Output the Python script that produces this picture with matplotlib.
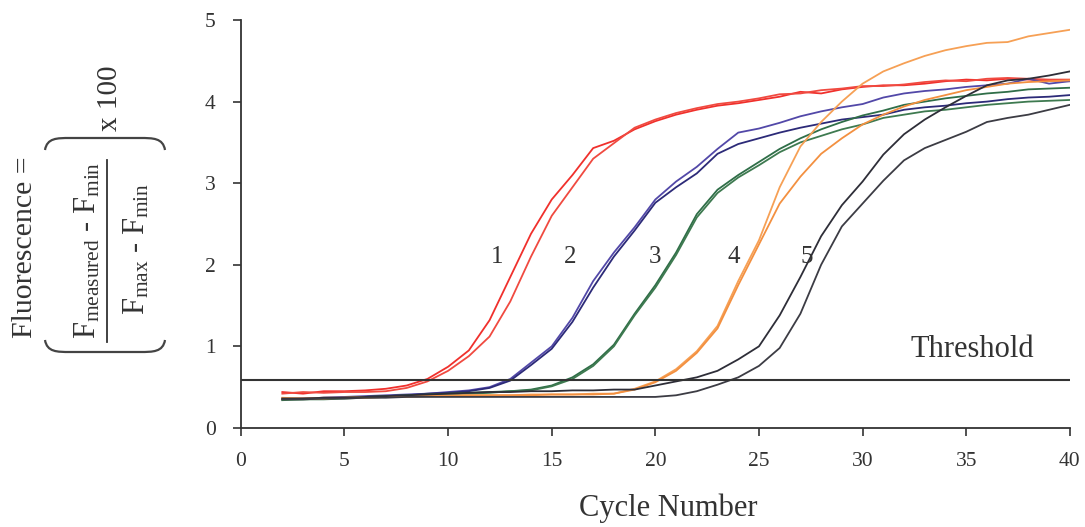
import numpy as np
import matplotlib
matplotlib.use("Agg")
import matplotlib.pyplot as plt
from matplotlib.path import Path
from matplotlib.patches import PathPatch

plt.rcParams['font.family'] = ['Liberation Serif', 'DejaVu Serif']
plt.rcParams['mathtext.fontset'] = 'custom'
plt.rcParams['mathtext.rm'] = 'Liberation Serif'
plt.rcParams['mathtext.it'] = 'Liberation Serif:italic'

cycles = np.arange(2, 41)

# one value per cycle (2..40)
red_a = [0.44, 0.42, 0.45, 0.45, 0.46, 0.48, 0.52, 0.60, 0.75, 0.95, 1.32, 1.85, 2.38, 2.80,
         3.10, 3.43, 3.52, 3.66, 3.76, 3.84, 3.90, 3.95, 3.98, 4.02, 4.06, 4.12, 4.10, 4.15,
         4.18, 4.20, 4.20, 4.22, 4.25, 4.27, 4.26, 4.28, 4.27, 4.26, 4.25]
red_b = [0.42, 0.44, 0.43, 0.44, 0.44, 0.45, 0.49, 0.57, 0.70, 0.88, 1.12, 1.55, 2.10, 2.60,
         2.95, 3.30, 3.49, 3.68, 3.78, 3.86, 3.92, 3.97, 4.00, 4.04, 4.09, 4.10, 4.14, 4.16,
         4.19, 4.19, 4.21, 4.24, 4.26, 4.25, 4.28, 4.29, 4.28, 4.27, 4.27]
blue_a = [0.36, 0.36, 0.37, 0.38, 0.39, 0.40, 0.41, 0.42, 0.44, 0.46, 0.50, 0.60, 0.80, 1.00,
          1.35, 1.80, 2.15, 2.46, 2.80, 3.02, 3.20, 3.42, 3.62, 3.67, 3.74, 3.82, 3.88, 3.93,
          3.97, 4.05, 4.10, 4.13, 4.15, 4.18, 4.20, 4.22, 4.28, 4.22, 4.25]
blue_b = [0.35, 0.36, 0.37, 0.37, 0.38, 0.39, 0.40, 0.42, 0.43, 0.45, 0.49, 0.58, 0.77, 0.97,
          1.30, 1.72, 2.10, 2.42, 2.76, 2.95, 3.12, 3.36, 3.48, 3.55, 3.62, 3.68, 3.73, 3.78,
          3.81, 3.84, 3.90, 3.93, 3.95, 3.98, 4.00, 4.03, 4.05, 4.06, 4.08]
green_a = [0.35, 0.35, 0.36, 0.37, 0.38, 0.39, 0.40, 0.41, 0.42, 0.43, 0.44, 0.45, 0.47, 0.52,
           0.62, 0.78, 1.02, 1.40, 1.75, 2.15, 2.62, 2.92, 3.10, 3.26, 3.42, 3.55, 3.66, 3.75,
           3.83, 3.89, 3.96, 4.00, 4.04, 4.07, 4.10, 4.12, 4.15, 4.16, 4.17]
green_b = [0.34, 0.35, 0.35, 0.36, 0.37, 0.38, 0.39, 0.40, 0.41, 0.42, 0.43, 0.45, 0.46, 0.51,
           0.60, 0.76, 1.00, 1.38, 1.72, 2.12, 2.58, 2.88, 3.07, 3.22, 3.38, 3.50, 3.58, 3.66,
           3.72, 3.80, 3.84, 3.88, 3.90, 3.93, 3.96, 3.98, 4.00, 4.01, 4.02]
orange_a = [0.37, 0.36, 0.37, 0.37, 0.38, 0.38, 0.39, 0.39, 0.40, 0.40, 0.40, 0.40, 0.41, 0.41,
            0.41, 0.42, 0.42, 0.48, 0.57, 0.72, 0.94, 1.25, 1.80, 2.30, 2.95, 3.45, 3.75, 4.00,
            4.22, 4.37, 4.47, 4.56, 4.63, 4.68, 4.72, 4.73, 4.80, 4.84, 4.88]
orange_b = [0.36, 0.36, 0.36, 0.37, 0.37, 0.38, 0.38, 0.39, 0.39, 0.40, 0.40, 0.40, 0.40, 0.41,
            0.41, 0.41, 0.42, 0.47, 0.56, 0.70, 0.92, 1.22, 1.75, 2.25, 2.75, 3.08, 3.36, 3.55,
            3.72, 3.84, 3.94, 4.02, 4.08, 4.14, 4.18, 4.22, 4.24, 4.25, 4.26]
black_a = [0.36, 0.36, 0.37, 0.37, 0.38, 0.39, 0.40, 0.41, 0.42, 0.43, 0.44, 0.44, 0.45, 0.45,
           0.46, 0.46, 0.47, 0.47, 0.52, 0.57, 0.62, 0.70, 0.84, 1.00, 1.38, 1.85, 2.35, 2.73,
           3.02, 3.35, 3.60, 3.78, 3.93, 4.07, 4.20, 4.26, 4.28, 4.32, 4.37]
black_b = [0.35, 0.35, 0.36, 0.36, 0.37, 0.37, 0.38, 0.38, 0.38, 0.38, 0.38, 0.38, 0.38, 0.38,
           0.38, 0.38, 0.38, 0.38, 0.38, 0.40, 0.45, 0.53, 0.62, 0.76, 0.98, 1.40, 2.00, 2.47,
           2.75, 3.03, 3.28, 3.43, 3.53, 3.63, 3.75, 3.80, 3.84, 3.90, 3.96]

series = [
    (red_a, '#f0302c'), (red_b, '#f04a40'),
    (blue_a, '#5248a8'), (blue_b, '#2c2a78'),
    (green_a, '#2f6e48'), (green_b, '#3e7a50'),
    (orange_a, '#f6a055'), (orange_b, '#f39040'),
    (black_a, '#2e2e38'), (black_b, '#3c3c44'),
]

group_labels = ['1', '2', '3', '4', '5']
label_x = [12.35, 15.9, 20.0, 23.8, 27.3]
label_y = 2.02
threshold = 0.59

txt = '#333333'
fig = plt.figure(figsize=(10.85, 5.27), dpi=100)
ax = fig.add_axes([0.222, 0.188, 0.764, 0.774])

for vals, col in series:
    ax.plot(cycles, vals, color=col, lw=1.3)

ax.axhline(threshold, color=txt, lw=1.5)
ax.text(35.3, 0.87, 'Threshold', fontsize=22, color=txt, ha='center', va='baseline')

for lab, lx in zip(group_labels, label_x):
    ax.text(lx, label_y, lab, fontsize=18, color=txt, ha='center', va='baseline')

ax.set_xlim(0, 40)
ax.set_ylim(0, 5)
ax.set_xticks(range(0, 41, 5))
ax.set_yticks(range(0, 6))
for s in ['top', 'right']:
    ax.spines[s].set_visible(False)
for s in ['left', 'bottom']:
    ax.spines[s].set_color(txt)
    ax.spines[s].set_linewidth(1.3)
ax.tick_params(direction='out', length=6, width=1.2, colors=txt, labelsize=15.5, pad=12)
ax.tick_params(axis='x', pad=11)

ax.set_xlabel('Cycle Number', fontsize=22, color=txt)
ax.xaxis.set_label_coords(0.515, -0.16)

# y label built in pixel space of the whole figure
lab_ax = fig.add_axes([0, 0, 1, 1], zorder=-1)
lab_ax.set_xlim(0, 1085)
lab_ax.set_ylim(527, 0)
lab_ax.axis('off')

lab_ax.text(25, 338, 'Fluorescence =', rotation=90, fontsize=21.5, color=txt,
            ha='center', va='bottom')
lab_ax.text(88, 250, r'F$_{\mathrm{measured}}$ - F$_{\mathrm{min}}$', rotation=90,
            fontsize=22, color=txt, ha='center', va='center')
lab_ax.plot([107, 107], [160, 342], color=txt, lw=1.3)
lab_ax.text(137, 249, r'F$_{\mathrm{max}}$ - F$_{\mathrm{min}}$', rotation=90,
            fontsize=22, color=txt, ha='center', va='center')
lab_ax.text(110, 98, 'x 100', rotation=90, fontsize=21, color=txt, ha='center', va='center')

for yend, ymid in [(340, 352), (150, 138)]:
    verts = [(45, yend), (47, ymid), (57, ymid), (70, ymid),
             (140, ymid), (153, ymid),
             (163, ymid), (165, yend)]
    codes = [Path.MOVETO, Path.CURVE4, Path.CURVE4, Path.CURVE4,
             Path.LINETO, Path.CURVE4, Path.CURVE4, Path.CURVE4]
    lab_ax.add_patch(PathPatch(Path(verts, codes), fill=False, ec='#444444', lw=1.6))

fig.savefig('out.png', dpi=100, facecolor='white')
